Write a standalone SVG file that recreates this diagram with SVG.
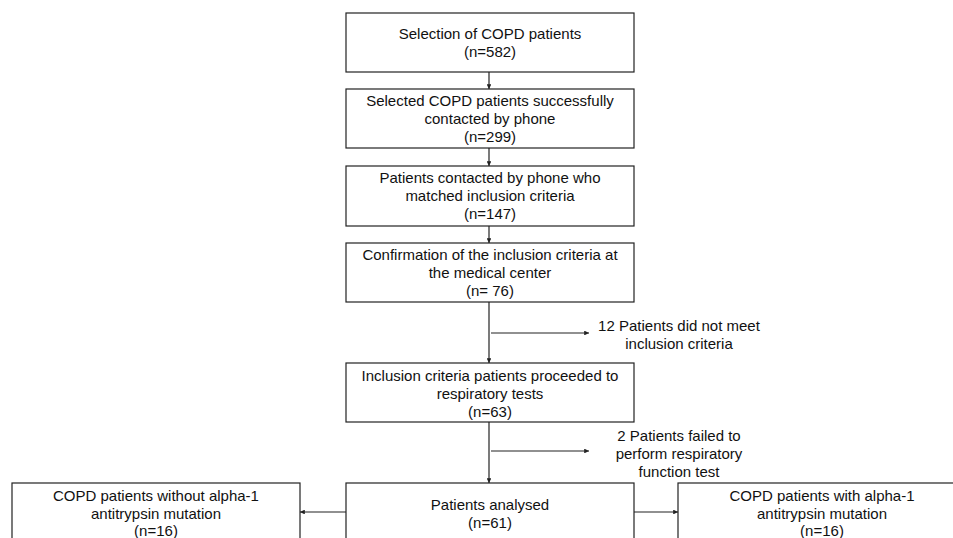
<svg xmlns="http://www.w3.org/2000/svg" width="953" height="538" viewBox="0 0 953 538">
<style>
.box{fill:#fff;stroke:#222;stroke-width:1.2}
.t{font-family:"Liberation Sans",Arial,sans-serif;font-size:15px;fill:#111;text-anchor:middle}
.c{stroke:#222;stroke-width:1.2;fill:none}
</style>
<defs>
<marker id="ah" viewBox="0 0 6 6" refX="6" refY="3" markerWidth="4" markerHeight="4" orient="auto" markerUnits="strokeWidth">
<path d="M0,0 L6,3 L0,6 z" fill="#222"/>
</marker>
</defs>
<rect width="953" height="538" fill="#fff"/>
<g id="connectors">
<line class="c" x1="489" y1="72" x2="489" y2="89" marker-end="url(#ah)"/>
<line class="c" x1="489" y1="148" x2="489" y2="166" marker-end="url(#ah)"/>
<line class="c" x1="489" y1="226" x2="489" y2="243" marker-end="url(#ah)"/>
<line class="c" x1="489" y1="302" x2="489" y2="363" marker-end="url(#ah)"/>
<line class="c" x1="491" y1="333" x2="589" y2="333" marker-end="url(#ah)"/>
<line class="c" x1="489" y1="422" x2="489" y2="483" marker-end="url(#ah)"/>
<line class="c" x1="491" y1="451" x2="589" y2="451" marker-end="url(#ah)"/>
<line class="c" x1="346" y1="512" x2="300" y2="512" marker-end="url(#ah)"/>
<line class="c" x1="634" y1="512" x2="678" y2="512" marker-end="url(#ah)"/>
</g>
<g id="n1">
<rect class="box" x="346" y="13" width="288" height="59"/>
<text class="t" x="490" y="39">Selection of COPD patients</text>
<text class="t" x="490" y="57">(n=582)</text>
</g>
<g id="n2">
<rect class="box" x="346" y="89" width="288" height="59"/>
<text class="t" x="490" y="106">Selected COPD patients successfully</text>
<text class="t" x="490" y="124">contacted by phone</text>
<text class="t" x="490" y="142">(n=299)</text>
</g>
<g id="n3">
<rect class="box" x="346" y="166" width="288" height="60"/>
<text class="t" x="490" y="183">Patients contacted by phone who</text>
<text class="t" x="490" y="201">matched inclusion criteria</text>
<text class="t" x="490" y="219">(n=147)</text>
</g>
<g id="n4">
<rect class="box" x="346" y="243" width="288" height="59"/>
<text class="t" x="490" y="260">Confirmation of the inclusion criteria at</text>
<text class="t" x="490" y="278">the medical center</text>
<text class="t" x="490" y="296">(n= 76)</text>
</g>
<g id="ex1">
<text class="t" x="679" y="331">12 Patients did not meet</text>
<text class="t" x="679" y="349">inclusion criteria</text>
</g>
<g id="n5">
<rect class="box" x="346" y="363" width="288" height="59"/>
<text class="t" x="490" y="381">Inclusion criteria patients proceeded to</text>
<text class="t" x="490" y="399">respiratory tests</text>
<text class="t" x="490" y="417">(n=63)</text>
</g>
<g id="ex2">
<text class="t" x="679" y="441">2 Patients failed to</text>
<text class="t" x="679" y="459">perform respiratory</text>
<text class="t" x="679" y="477">function test</text>
</g>
<g id="n6">
<rect class="box" x="346" y="483" width="288" height="70"/>
<text class="t" x="490" y="510">Patients analysed</text>
<text class="t" x="490" y="528">(n=61)</text>
</g>
<g id="n7">
<rect class="box" x="12" y="483" width="288" height="70"/>
<text class="t" x="156" y="501">COPD patients without alpha-1</text>
<text class="t" x="156" y="519">antitrypsin mutation</text>
<text class="t" x="156" y="536">(n=16)</text>
</g>
<g id="n8">
<rect class="box" x="678" y="483" width="288" height="70"/>
<text class="t" x="822" y="501">COPD patients with alpha-1</text>
<text class="t" x="822" y="519">antitrypsin mutation</text>
<text class="t" x="822" y="536">(n=16)</text>
</g>
</svg>
